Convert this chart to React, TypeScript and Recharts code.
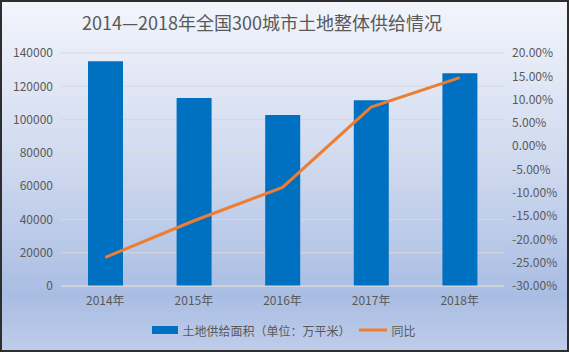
import { ComposedChart, Bar, Line, XAxis, YAxis, CartesianGrid, Legend } from "recharts";

const title = "2014—2018年全国300城市土地整体供给情况";
const years = ["2014年", "2015年", "2016年", "2017年", "2018年"];
// 土地供给面积（万平米）
const supplyArea = [135000, 113000, 102700, 111600, 127800];
// 同比
const yoy = [-0.2385, -0.16, -0.0885, 0.084, 0.147];
const leftTicks = [0, 20000, 40000, 60000, 80000, 100000, 120000, 140000];
const rightTicks = [-0.3, -0.25, -0.2, -0.15, -0.1, -0.05, 0, 0.05, 0.1, 0.15, 0.2];
const barName = "土地供给面积（单位：万平米）";
const lineName = "同比";

const data = years.map((y, i) => ({ year: y, area: supplyArea[i], yoy: yoy[i] }));

const textColor = "#595959";
const barColor = "#0070c0";
const lineColor = "#ed7d31";

function LegendBox() {
  return (
    <div
      style={{
        height: 20,
        display: "flex",
        justifyContent: "center",
        alignItems: "center",
        fontSize: 12,
        color: textColor,
        textSpacingTrim: "space-all",
        fontFeatureSettings: '"fwid"',
        paddingLeft: 4,
      } as any}
    >
      <svg width={26} height={8} style={{ marginRight: 4 }}>
        <rect x={0} y={0} width={26} height={8} fill={barColor} />
      </svg>
      <span>{barName}</span>
      <svg width={28} height={8} style={{ marginLeft: 8, marginRight: 5 }}>
        <line x1={0} y1={4} x2={28} y2={4} stroke={lineColor} strokeWidth={3} />
      </svg>
      <span>{lineName}</span>
    </div>
  );
}

export default function App() {
  return (
    <div
      style={{
        position: "fixed",
        top: 0,
        left: 0,
        width: 569,
        height: 352,
        background: "linear-gradient(to bottom, #f3f5fb 0%, #ccd7ee 50%, #a9bde3 84%, #bfcdea 100%)",
        boxShadow: "inset 0 0 0 2px #2e2e2e",
        fontFamily: '"Noto Sans CJK SC", "Noto Sans", sans-serif',
      }}
    >
      <div style={{ position: "absolute", top: 11, left: 0, width: 524, textAlign: "center", fontSize: 18, lineHeight: "22px", color: textColor, whiteSpace: "nowrap" }}>
        {title}
      </div>
      <ComposedChart width={569} height={352} data={data} margin={{ top: 53, right: 5, left: 0, bottom: 12 }}>
        <CartesianGrid yAxisId="left" vertical={false} stroke="#d9d9d9" />
        <XAxis
          dataKey="year"
          height={34}
          tickLine={false}
          axisLine={{ stroke: "#d9d9d9" }}
          tickMargin={4}
          tick={{ fill: textColor, fontSize: 12 }}
        />
        <YAxis
          yAxisId="left"
          width={61}
          domain={[0, 140000]}
          ticks={leftTicks}
          tickLine={false}
          axisLine={false}
          tick={{ fill: textColor, fontSize: 12 }}
        />
        <YAxis
          yAxisId="right"
          orientation="right"
          width={60}
          domain={[-0.3, 0.2]}
          ticks={rightTicks}
          tickLine={false}
          axisLine={false}
          tickFormatter={(v: number) => (v * 100).toFixed(2) + "%"}
          tick={{ fill: textColor, fontSize: 12 }}
        />
        <Legend verticalAlign="bottom" content={() => <LegendBox />} />
        <Bar yAxisId="left" dataKey="area" name={barName} fill={barColor} barSize={35} isAnimationActive={false} />
        <Line
          yAxisId="right"
          type="linear"
          dataKey="yoy"
          name={lineName}
          stroke={lineColor}
          strokeWidth={3}
          dot={false}
          isAnimationActive={false}
        />
      </ComposedChart>
    </div>
  );
}
